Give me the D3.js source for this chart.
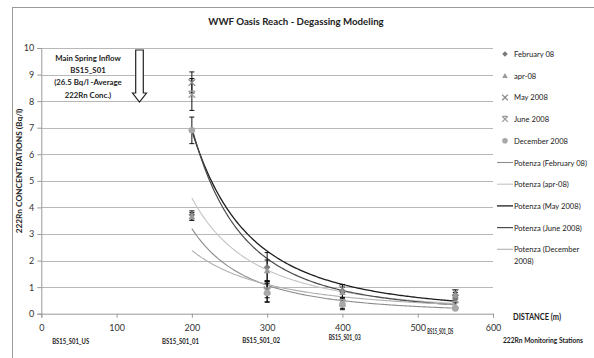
<!DOCTYPE html>
<html>
<head>
<meta charset="utf-8">
<script src="https://cdn.jsdelivr.net/npm/d3@7"></script>
<style>
  html, body { margin: 0; padding: 0; background: #fff; }
  svg { display: block; }
  text { font-family: "Lato", "Liberation Sans", sans-serif; fill: #222; }
</style>
</head>
<body>
<svg id="chart" width="594" height="358"></svg>
<script>
// ---- data ----
const distances = [200, 300, 400, 550];
const seriesNames = ["February 08", "apr-08", "May 2008", "June 2008", "December 2008"];
const feb08 = [3.72, 1.75, 0.85, 0.55];
const apr08 = [3.66, 1.62, 0.80, 0.70];
const may08 = [8.70, 0.90, 0.95, 0.80];
const jun08 = [8.25, 0.85, 0.40, 0.33];
const dec08 = [6.90, 0.78, 0.35, 0.20];
const feb08Err = [0.15, 0.55, 0.25, 0.10];
const apr08Err = [0.15, 0.40, 0.20, 0.10];
const may08Err = [0.40, 0.30, 0.15, 0.10];
const jun08Err = [0.60, 0.40, 0.20, 0.10];
const dec08Err = [0.50, 0.35, 0.20, 0.05];
// power trendlines ("Potenza"): value at 200 m and exponent
const trendNames = ["Potenza (February 08)", "Potenza (apr-08)", "Potenza (May 2008)", "Potenza (June 2008)", "Potenza (December 2008)"];
const trendAt200 = [3.2, 4.35, 6.9, 7.0, 2.38];
const trendExp = [-2.7, -2.4, -2.65, -3.0, -1.9];
const xTicks = [0, 100, 200, 300, 400, 500, 600];
const yTicks = [0, 1, 2, 3, 4, 5, 6, 7, 8, 9, 10];
const stationNames = ["BS15_S01_US", "BS15_S01_01", "BS15_S01_02", "BS15_S01_03", "BS15_S01_DS"];
const stationDist = [39, 185, 292, 403, 530];
const annotationLines = ["Main Spring Inflow", "BS15_S01", "(26.5 Bq/l -Average", "222Rn Conc.)"];

const values = [feb08, apr08, may08, jun08, dec08];
const errs = [feb08Err, apr08Err, may08Err, jun08Err, dec08Err];

// ---- styles ----
const markerColors = ["#7a7a7a", "#9a9a9a", "#8a8a8a", "#9c9c9c", "#a8a8a8"];
const markerTypes = ["diamond", "triangle", "x", "star", "circle"];
const trendColors = ["#8c8c8c", "#c4c4c4", "#1e1e1e", "#4a4a4a", "#b0b0b0"];
const trendWidths = [1.1, 1.1, 1.3, 1.2, 1.1];
const stationY = [344, 344, 343, 339.5, 333.5];
const stationW = [37, 37, 38, 32, 26];

const svg = d3.select("#chart");
const x = d3.scaleLinear().domain([0, 600]).range([41.3, 493]);
const y = d3.scaleLinear().domain([0, 10]).range([313.7, 48]);

// outer border (left & top visible)
svg.append("rect").attr("x", 12.5).attr("y", 7.5).attr("width", 600).attr("height", 400)
  .attr("fill", "none").attr("stroke", "#9a9a9a").attr("stroke-width", 1);

// title
svg.append("text").attr("x", 296).attr("y", 25).attr("text-anchor", "middle")
  .attr("font-size", 9.7).attr("font-weight", "bold").text("WWF Oasis Reach - Degassing Modeling");

// gridlines
svg.append("g").selectAll("line").data(yTicks.filter(d => d > 0)).join("line")
  .attr("x1", x(0)).attr("x2", x(600))
  .attr("y1", d => Math.round(y(d)) + 0.5).attr("y2", d => Math.round(y(d)) + 0.5)
  .attr("stroke", "#b8b8b8").attr("stroke-width", 1);

// axes
const yAxis = d3.axisLeft(y).tickValues(yTicks).tickSize(4).tickPadding(3);
const gy = svg.append("g").attr("transform", `translate(${x(0)},0)`).call(yAxis);
gy.selectAll("path,line").attr("stroke", "#999");
gy.selectAll("text").attr("font-size", 9).style("fill", "#333").style("font-family", "Lato, sans-serif");

const xAxis = d3.axisBottom(x).tickValues(xTicks).tickSize(4).tickPadding(7).tickSizeOuter(4);
const gx = svg.append("g").attr("transform", `translate(0,${y(0)})`).call(xAxis);
gx.selectAll("path,line").attr("stroke", "#999");
gx.selectAll("text").attr("font-size", 9).style("fill", "#333").style("font-family", "Lato, sans-serif");

// y axis title
svg.append("text").attr("transform", "translate(22,171) rotate(-90)").attr("text-anchor", "middle")
  .attr("font-size", 8.3).attr("font-weight", "bold").text("222Rn CONCENTRATIONS (Bq/l)");

// station labels
svg.append("g").selectAll("text").data(stationNames).join("text")
  .attr("x", (d, i) => x(stationDist[i]) - stationW[i] / 2).attr("y", (d, i) => stationY[i])
  .attr("textLength", (d, i) => stationW[i]).attr("lengthAdjust", "spacingAndGlyphs")
  .attr("font-size", 7).attr("font-weight", "bold").text(d => d);
svg.append("text").attr("x", 503).attr("y", 343).attr("textLength", 80).attr("lengthAdjust", "spacingAndGlyphs")
  .attr("font-size", 7).attr("font-weight", "bold").text("222Rn Monitoring Stations");
svg.append("text").attr("x", 513).attr("y", 320).attr("textLength", 48).attr("lengthAdjust", "spacingAndGlyphs")
  .attr("font-size", 8.8).attr("font-weight", "bold").text("DISTANCE (m)");

// annotation text
svg.append("g").selectAll("text").data(annotationLines).join("text")
  .attr("x", 88).attr("y", (d, i) => 61 + i * 12.2).attr("text-anchor", "middle")
  .attr("font-size", 7.8).attr("font-weight", "bold").text(d => d);

// hollow down arrow
const ax = 139.5, aTop = 50, aNeck = 93, aTip = 102, sw = 3.8, hw = 7;
svg.append("path")
  .attr("d", `M${ax - sw},${aTop} L${ax + sw},${aTop} L${ax + sw},${aNeck} L${ax + hw},${aNeck} L${ax},${aTip} L${ax - hw},${aNeck} L${ax - sw},${aNeck} Z`)
  .attr("fill", "#fff").attr("stroke", "#222").attr("stroke-width", 1.2);

// trendlines
const line = d3.line().x(d => x(d[0])).y(d => y(d[1]));
trendAt200.forEach((v, i) => {
  const pts = d3.range(200, 551, 2).map(dd => [dd, v * Math.pow(dd / 200, trendExp[i])]);
  svg.append("path").attr("d", line(pts)).attr("fill", "none")
    .attr("stroke", trendColors[i]).attr("stroke-width", trendWidths[i]);
});

// error bars
const gErr = svg.append("g").attr("stroke", "#111").attr("stroke-width", 1);
values.forEach((vals, s) => {
  vals.forEach((v, j) => {
    const cx = x(distances[j]);
    const e = errs[s][j];
    gErr.append("line").attr("x1", cx).attr("x2", cx).attr("y1", y(v - e)).attr("y2", y(v + e));
    [v - e, v + e].forEach(t => gErr.append("line").attr("x1", cx - 2.5).attr("x2", cx + 2.5).attr("y1", y(t)).attr("y2", y(t)));
  });
});

// markers
function drawMarker(g, type, cx, cy, color, size) {
  const r = size;
  if (type === "diamond") {
    g.append("path").attr("d", `M${cx},${cy - r} L${cx + r},${cy} L${cx},${cy + r} L${cx - r},${cy} Z`).attr("fill", color);
  } else if (type === "triangle") {
    g.append("path").attr("d", `M${cx},${cy - r} L${cx + r},${cy + r * 0.8} L${cx - r},${cy + r * 0.8} Z`).attr("fill", color);
  } else if (type === "x") {
    g.append("path").attr("d", `M${cx - r},${cy - r} L${cx + r},${cy + r} M${cx - r},${cy + r} L${cx + r},${cy - r}`)
      .attr("stroke", color).attr("stroke-width", 1.3).attr("fill", "none");
  } else if (type === "star") {
    g.append("path").attr("d", `M${cx - r},${cy - r} L${cx + r},${cy + r} M${cx - r},${cy + r} L${cx + r},${cy - r} M${cx - r * 0.8},${cy - r} L${cx + r * 0.8},${cy - r}`)
      .attr("stroke", color).attr("stroke-width", 1.3).attr("fill", "none");
  } else {
    g.append("circle").attr("cx", cx).attr("cy", cy).attr("r", r).attr("fill", color);
  }
}
const gMarks = svg.append("g");
values.forEach((vals, s) => {
  vals.forEach((v, j) => drawMarker(gMarks, markerTypes[s], x(distances[j]), y(v), markerColors[s], 3.3));
});

// legend
const legX = 505, legTextX = 514, legY0 = 54, legStep = 21.7;
const gLeg = svg.append("g");
seriesNames.forEach((n, i) => {
  const ly = legY0 + i * legStep;
  drawMarker(gLeg, markerTypes[i], legX, ly, markerColors[i], 2.8);
  gLeg.append("text").attr("x", legTextX).attr("y", ly + 3).attr("font-size", 7.6).text(n);
});
trendNames.forEach((n, i) => {
  const ly = legY0 + (i + 5) * legStep;
  gLeg.append("line").attr("x1", 497).attr("x2", 513).attr("y1", ly).attr("y2", ly)
    .attr("stroke", trendColors[i]).attr("stroke-width", trendWidths[i]);
  if (i === 4) {
    gLeg.append("text").attr("x", legTextX).attr("y", ly + 3).attr("font-size", 7.6).text("Potenza (December");
    gLeg.append("text").attr("x", legTextX).attr("y", ly + 15).attr("font-size", 7.6).text("2008)");
  } else {
    gLeg.append("text").attr("x", legTextX).attr("y", ly + 3).attr("font-size", 7.6).text(n);
  }
});
</script>
</body>
</html>
